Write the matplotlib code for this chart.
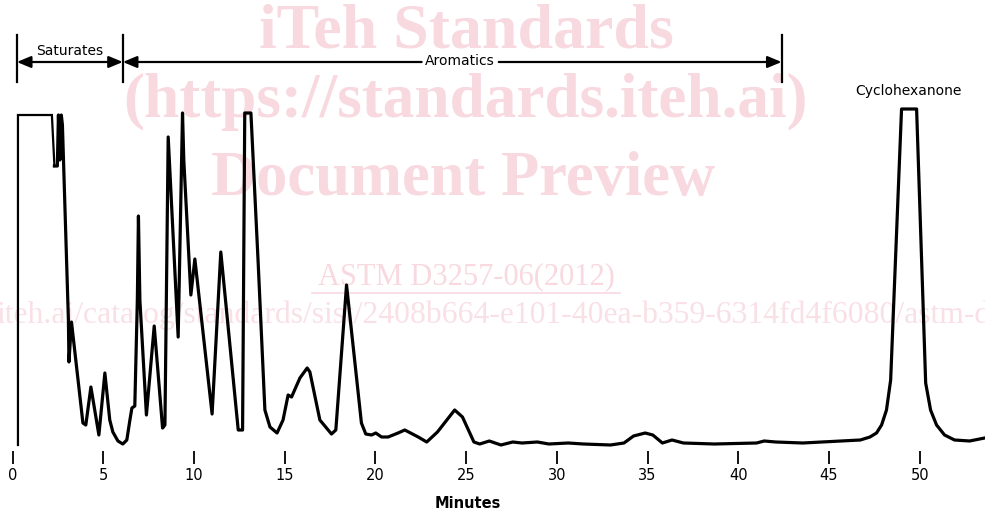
import matplotlib
matplotlib.use("Agg")
from matplotlib import pyplot as plt
from matplotlib.lines import Line2D

# chromatogram trace (minutes, detector response)
minutes = [0.30, 0.30, 2.17, 2.31, 2.47, 2.53, 2.61, 2.69, 2.75, 3.08, 3.11, 3.25,
           3.88, 4.04, 4.32, 4.76, 5.09, 5.36, 5.53, 5.81, 6.08, 6.30, 6.47, 6.58,
           6.74, 6.88, 6.94, 7.02, 7.38, 7.81, 8.27, 8.40, 8.58, 9.13, 9.37, 9.44,
           9.83, 10.05, 11.00, 11.48, 12.44, 12.68, 12.80, 13.14, 13.54, 13.91, 14.19,
           14.58, 14.91, 15.19, 15.38, 15.84, 16.24, 16.39, 16.94, 17.58, 17.82, 18.41,
           19.23, 19.47, 19.79, 20.02, 20.34, 20.70, 21.25, 21.62, 21.94, 22.36, 22.83,
           23.42, 24.37, 24.80, 25.43, 25.75, 26.28, 26.92, 27.57, 28.08, 28.93, 29.56,
           30.63, 31.47, 32.96, 33.70, 34.23, 34.87, 35.29, 35.82, 36.35, 36.98, 38.68,
           41.01, 41.43, 42.07, 43.55, 46.73, 47.26, 47.62, 47.90, 48.17, 48.40, 49.00,
           49.83, 50.33, 50.60, 50.93, 51.37, 51.92, 52.75, 53.58]
response = [0, 330, 330, 279, 279, 330, 285, 330, 320, 125, 83, 123,
            22, 20, 58, 10, 72, 25, 13, 4, 1, 5, 25, 37,
            39, 145, 229, 145, 30, 119, 17, 20, 308, 108, 332, 285,
            150, 186, 31, 193, 15, 15, 332, 332, 182, 35, 18,
            12, 25, 50, 48, 67, 77, 73, 25, 11, 15, 160,
            22, 11, 10, 12, 8, 8, 12, 15, 12, 8, 3,
            13, 35, 28, 3, 1, 4, 0, 3, 2, 3, 1,
            2, 1, 0, 2, 9, 12, 10, 2, 5, 2, 1,
            2, 4, 3, 2, 5, 8, 12, 20, 35, 65, 336,
            336, 62, 35, 20, 10, 5, 4, 7]

x_ticks = list(range(0, 55, 5))

# group brackets (start, end in minutes) and labels
sat_range = (0.24, 6.08)
aro_range = (6.08, 42.39)
aro_gap = (22.55, 26.8)   # where the "Aromatics" label breaks the arrow
bracket_y = 383
bracket_top, bracket_bottom = 410, 363

fig = plt.figure(figsize=(9.85, 5.14), dpi=100)
ax = fig.add_axes([0, 63 / 514, 1, 451 / 514])
ax.set_xlim(-0.69, 53.6)
ax.set_ylim(-6, 445)

# faint watermark behind the trace
wm = '#f8d9e0'
wm2 = '#f9e0e6'
ax.text(466 / 985, 1 - 32 / 514, 'iTeh Standards', transform=fig.transFigure, ha='center', va='center',
        fontsize=46, fontweight='bold', family='Liberation Serif', color=wm, zorder=0)
ax.text(465 / 985, 1 - 102 / 514, '(https://standards.iteh.ai)', transform=fig.transFigure, ha='center',
        va='center', fontsize=45.5, fontweight='bold', family='Liberation Serif', color=wm, zorder=0)
ax.text(463 / 985, 1 - 180 / 514, 'Document Preview', transform=fig.transFigure, ha='center', va='center',
        fontsize=45, fontweight='bold', family='Liberation Serif', color=wm, zorder=0)
ax.text(466 / 985, 1 - 277 / 514, 'ASTM D3257-06(2012)', transform=fig.transFigure, ha='center', va='center',
        fontsize=22, family='Liberation Serif', color=wm, zorder=0)
ax.add_line(Line2D([312 / 985, 620 / 985], [1 - 293 / 514, 1 - 293 / 514], transform=fig.transFigure,
                   color=wm, lw=1.2, zorder=0))
ax.text(-4 / 985, 1 - 315 / 514,
        'iteh.ai/catalog/standards/sist/2408b664-e101-40ea-b359-6314fd4f6080/astm-d3257-062012',
        transform=fig.transFigure, ha='left', va='center', fontsize=22.8, family='Liberation Serif',
        color=wm2, zorder=0)

# trace
ax.plot(minutes[:4], response[:4], color='black', lw=1.6, solid_joinstyle='miter', zorder=3)
ax.plot(minutes[3:], response[3:], color='black', lw=2.3, solid_joinstyle='round', zorder=3)

# Saturates / Aromatics brackets
for xb in (sat_range[0], sat_range[1], aro_range[1]):
    ax.plot([xb, xb], [bracket_bottom, bracket_top], color='black', lw=1.6, zorder=3)
arrow = dict(arrowstyle='-|>,head_length=0.6,head_width=0.25', color='black', lw=1.6,
             mutation_scale=14, shrinkA=0, shrinkB=0)
mid = (sat_range[0] + sat_range[1]) / 2
ax.annotate('', xy=(sat_range[0], bracket_y), xytext=(mid, bracket_y), arrowprops=arrow)
ax.annotate('', xy=(sat_range[1], bracket_y), xytext=(mid, bracket_y), arrowprops=arrow)
ax.annotate('', xy=(aro_range[0], bracket_y), xytext=(aro_gap[0], bracket_y), arrowprops=arrow)
ax.annotate('', xy=(aro_range[1], bracket_y), xytext=(aro_gap[1], bracket_y), arrowprops=arrow)
ax.text(mid, 394, 'Saturates', ha='center', va='center', fontsize=10)
ax.text((aro_gap[0] + aro_gap[1]) / 2, bracket_y + 1, 'Aromatics', ha='center', va='center', fontsize=10)
ax.text(49.4, 354, 'Cyclohexanone', ha='center', va='center', fontsize=10)

# axis: only the tick marks and labels
for side in ('top', 'right', 'bottom', 'left'):
    ax.spines[side].set_visible(False)
ax.set_yticks([])
ax.set_xticks(x_ticks)
ax.tick_params(axis='x', length=9.5, width=1.3, color='black', pad=3, labelsize=10.5)
fig.text(468 / 985, 1 - 503 / 514, 'Minutes', ha='center', va='center', fontsize=10.5, fontweight='bold')

fig.savefig('out.png', dpi=100)
